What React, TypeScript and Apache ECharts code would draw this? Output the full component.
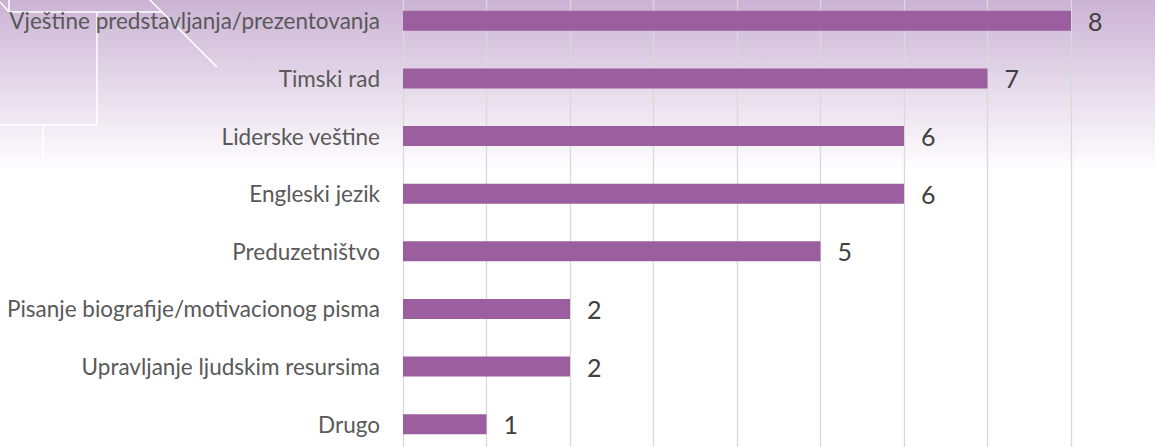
import React, { useEffect, useRef } from "react";
import * as echarts from "echarts";

const categories = [
  "Vještine predstavljanja/prezentovanja",
  "Timski rad",
  "Liderske veštine",
  "Engleski jezik",
  "Preduzetništvo",
  "Pisanje biografije/motivacionog pisma",
  "Upravljanje ljudskim resursima",
  "Drugo",
];
const values = [8, 7, 6, 6, 5, 2, 2, 1];

const OFF = 8; // chart div starts 8px above the page

export default function App() {
  const ref = useRef<HTMLDivElement>(null);
  useEffect(() => {
    document.body.style.margin = "0";
    document.body.style.overflow = "hidden";
    const chart = echarts.init(ref.current!, null, { renderer: "svg" });
    const white = { stroke: "#ffffff", lineWidth: 1.5 };
    const ln = (x1: number, y1: number, x2: number, y2: number) => ({
      type: "line",
      z: -5,
      silent: true,
      shape: { x1, y1: y1 + OFF, x2, y2: y2 + OFF },
      style: white,
    });
    chart.setOption({
      animation: false,
      graphic: [
        {
          type: "rect",
          z: -10,
          silent: true,
          shape: { x: 0, y: 0, width: 1155, height: 172 + OFF },
          style: {
            fill: new echarts.graphic.LinearGradient(0, 0, 0, 1, [
              { offset: 0, color: "#c9afd2" },
              { offset: 0.5, color: "#e4d8e9" },
              { offset: 1, color: "#ffffff" },
            ]),
          },
        },
        ln(0, 2, 9, 12),
        ln(9, -8, 9, 12),
        ln(9, 12, 162, 12),
        ln(138, -12, 217, 67),
        ln(97, 12, 97, 125),
        ln(0, 125, 97, 125),
        ln(43, 125, 43, 162),
      ],
      grid: { left: 403, right: 84, top: 0, bottom: 0, containLabel: false },
      xAxis: {
        type: "value",
        min: 0,
        max: 8,
        interval: 1,
        axisLabel: { show: false },
        axisLine: { show: false },
        axisTick: { show: false },
        splitLine: { show: true, lineStyle: { color: "#d9d9d9", width: 1.3 } },
      },
      yAxis: {
        type: "category",
        inverse: true,
        data: categories,
        axisLine: { show: false },
        axisTick: { show: false },
        axisLabel: {
          margin: 23,
          color: "#595959",
          fontSize: 22.5,
          fontFamily: "Lato",
        },
      },
      series: [
        {
          type: "bar",
          data: values,
          barWidth: 20,
          itemStyle: { color: "#9b5fa0" },
          label: {
            show: true,
            position: "right",
            distance: 17,
            color: "#404040",
            fontSize: 25,
            fontFamily: "Lato",
          },
        },
      ],
    });
    return () => chart.dispose();
  }, []);
  return (
    <div
      ref={ref}
      style={{ position: "absolute", left: 0, top: -OFF, width: 1155, height: 447 + 14 }}
    />
  );
}
